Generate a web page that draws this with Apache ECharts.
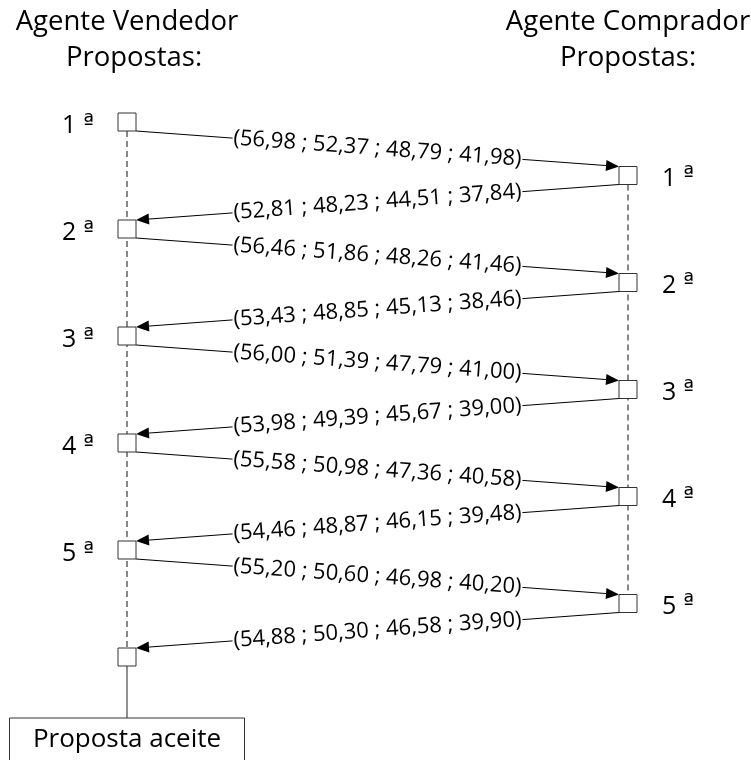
<!DOCTYPE html>
<html><head><meta charset="utf-8">
<script src="https://cdn.jsdelivr.net/npm/echarts@6/dist/echarts.min.js"></script>
<style>html,body{margin:0;padding:0;background:#fff}#c{width:751px;height:760px}</style>
</head><body><div id="c"></div>
<script>
var agents = ['Agente Vendedor', 'Agente Comprador'];
var subtitle = 'Propostas:';
var rounds = ['1', '2', '3', '4', '5'];
var ordinal = 'ª';
var vendorProposals = [
  [56.98, 52.37, 48.79, 41.98],
  [56.46, 51.86, 48.26, 41.46],
  [56.00, 51.39, 47.79, 41.00],
  [55.58, 50.98, 47.36, 40.58],
  [55.20, 50.60, 46.98, 40.20]
];
var buyerProposals = [
  [52.81, 48.23, 44.51, 37.84],
  [53.43, 48.85, 45.13, 38.46],
  [53.98, 49.39, 45.67, 39.00],
  [54.46, 48.87, 46.15, 39.48],
  [54.88, 50.30, 46.58, 39.90]
];
var finalLabel = 'Proposta aceite';

var FONT = '"Open Sans"';
function fmt(arr){ return '(' + arr.map(function(v){return v.toFixed(2).replace('.', ',');}).join(' ; ') + ')'; }

var boxes = [];
rounds.forEach(function(r, i){
  boxes.push([0, i, r, 'left']);
  boxes.push([1, i + 0.5, r, 'right']);
});
boxes.push([0, rounds.length, '', 'left']);

var messages = [];
rounds.forEach(function(r, i){
  messages.push([0, i, 1, i + 0.5, fmt(vendorProposals[i])]);
  messages.push([1, i + 0.5, 0, i + 1, fmt(buyerProposals[i])]);
});

var lifelines = [
  [0, 0, rounds.length],
  [1, 0.5, rounds.length - 0.5]
];

var H = 9;
var chart = echarts.init(document.getElementById('c'), null, {renderer: 'canvas'});
chart.setOption({
  animation: false,
  backgroundColor: '#fff',
  grid: {left: 127, right: 123, top: 122, bottom: 103},
  xAxis: {type: 'value', min: 0, max: 1, show: false},
  yAxis: {type: 'value', min: 0, max: 5, inverse: true, show: false},
  series: [
    {
      type: 'custom', clip: false, silent: true,
      data: lifelines,
      renderItem: function(params, api){
        var a = api.coord([api.value(0), api.value(1)]);
        var b = api.coord([api.value(0), api.value(2)]);
        return {type: 'line', shape: {x1: a[0], y1: a[1] + H, x2: b[0], y2: b[1] - H},
          style: {stroke: '#111', lineWidth: 1, lineDash: [6, 4]}};
      }
    },
    {
      type: 'custom', clip: false, silent: true,
      data: [[0, rounds.length]],
      renderItem: function(params, api){
        var a = api.coord([api.value(0), api.value(1)]);
        return {type: 'group', children: [
          {type: 'line', shape: {x1: a[0], y1: a[1] + H, x2: a[0], y2: a[1] + 61}, style: {stroke: '#222', lineWidth: 1}},
          {type: 'rect', shape: {x: a[0] - 117.5, y: a[1] + 61, width: 235, height: 60}, style: {fill: '#fff', stroke: '#333', lineWidth: 1}},
          {type: 'text', x: a[0], y: a[1] + 83, style: {text: finalLabel, font: '26px ' + FONT, fill: '#000', align: 'center', verticalAlign: 'middle'}}
        ]};
      }
    },
    {
      type: 'custom', clip: false, silent: true,
      data: [[0], [1]],
      renderItem: function(params, api){
        var a = api.coord([api.value(0), 0]);
        return {type: 'group', children: [
          {type: 'text', x: a[0], y: 22, style: {text: agents[params.dataIndex], font: '27.5px ' + FONT, fill: '#000', align: 'center', verticalAlign: 'middle'}},
          {type: 'text', x: a[0] + (params.dataIndex === 0 ? 7 : 0), y: 58, style: {text: subtitle, font: '27.5px ' + FONT, fill: '#000', align: 'center', verticalAlign: 'middle'}}
        ]};
      }
    },
    {
      type: 'custom', clip: false, silent: true,
      data: messages,
      renderItem: function(params, api){
        var fx = api.value(0), tx = api.value(2);
        var a = api.coord([fx, api.value(1)]);
        var b = api.coord([tx, api.value(3)]);
        var dir = tx > fx ? 1 : -1;
        var x1 = a[0] + dir * H, y1 = a[1] + H;
        var x2 = b[0] - dir * H, y2 = b[1] - H;
        var ang = Math.atan2(y2 - y1, x2 - x1);
        var L = 13, W = 5.5;
        var bx = x2 - L * Math.cos(ang), by = y2 - L * Math.sin(ang);
        var px = -Math.sin(ang) * W, py = Math.cos(ang) * W;
        var textAng = dir > 0 ? ang : ang + Math.PI;
        return {type: 'group', children: [
          {type: 'line', shape: {x1: x1, y1: y1, x2: bx, y2: by}, style: {stroke: '#000', lineWidth: 1}},
          {type: 'polygon', shape: {points: [[x2, y2], [bx + px, by + py], [bx - px, by - py]]}, style: {fill: '#000'}},
          {type: 'text', x: (x1 + x2) / 2, y: (y1 + y2) / 2, rotation: -textAng,
            style: {text: messages[params.dataIndex][4], font: '22px ' + FONT, fill: '#000', align: 'center', verticalAlign: 'middle', backgroundColor: '#fff', padding: [0, 1]}}
        ]};
      }
    },
    {
      type: 'custom', clip: false, silent: true,
      data: boxes,
      renderItem: function(params, api){
        var a = api.coord([api.value(0), api.value(1)]);
        var item = boxes[params.dataIndex];
        var children = [
          {type: 'rect', shape: {x: a[0] - H, y: a[1] - H, width: 2 * H, height: 2 * H}, style: {fill: '#fff', stroke: '#333', lineWidth: 1}}
        ];
        if (item[2]) {
          var tx = item[3] === 'left' ? a[0] - 49 : a[0] + 50;
          var ty = item[3] === 'left' ? a[1] + 4 : a[1] + 3;
          children.push({type: 'text', x: tx, y: ty, style: {
            text: '{n|' + item[2] + '}{o|' + ordinal + '}',
            align: 'center', verticalAlign: 'middle',
            rich: {
              n: {fontFamily: 'Open Sans', fontSize: 25, fill: '#000', color: '#000'},
              o: {fontFamily: 'DejaVu Sans', fontSize: 23, fill: '#000', color: '#000', verticalAlign: 'top', padding: [0, 0, 4, 7]}
            }}});
        }
        return {type: 'group', children: children};
      }
    }
  ]
});
</script></body></html>
